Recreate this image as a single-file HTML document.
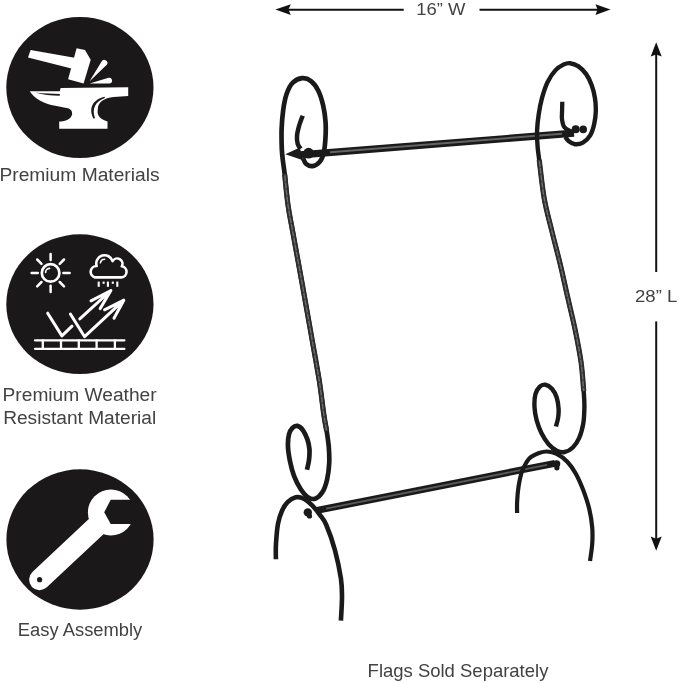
<!DOCTYPE html>
<html><head><meta charset="utf-8"><title>Flag Stand</title>
<style>html,body{margin:0;padding:0;background:#fff}body{width:679px;height:683px;position:relative;overflow:hidden;font-family:"Liberation Sans",sans-serif}</style></head>
<body>
<svg width="679" height="683" viewBox="0 0 679 683" style="display:block;position:absolute;left:0;top:0">
<rect width="679" height="683" fill="#ffffff"/>
<ellipse cx="79.9" cy="87.5" rx="73.6" ry="70.5" fill="#1b1819"/>
<ellipse cx="79.9" cy="304.2" rx="73.6" ry="69.9" fill="#1b1819"/>
<ellipse cx="80" cy="539.5" rx="73.6" ry="70.2" fill="#1b1819"/>
<g fill="#fff">
<polygon points="30.6,50 28,57.6 71.5,68.6 76,58"/>
<polygon points="76.6,48.3 85,50 90.7,59.7 83.6,83.6 68.1,79.2"/>
<path d="M89.4 81.6 L101.6 61.6 A3 3 0 0 1 107 64.6 Z"/>
<path d="M89.6 83.4 L108.6 77.8 A2.8 2.8 0 0 1 109.8 83.4 Z"/>
<path d="M60.6 88 L128.2 87.2 L128.2 96 L113.7 96.9 C104 98 97.8 102 97.8 109 C97 114 98 118.5 107.5 121.6 L107.5 128.7 L59.2 128.7 L59.2 121.6 C66 121.3 70.5 119.5 72.1 114.5 C72.5 110.5 70 108.8 67.7 108.3 L55.3 105.7 C44 104 34 98 29.7 91.2 L59.8 91.2 Z"/>
</g>
<path d="M35.5 92.6 C44 93.6 52 94 59.8 94 L59.8 95.8 C51 95.8 43 94.8 35.5 92.6 Z" fill="#1b1819"/>
<path d="M104.8 96.8 C93 99.5 88 108 93.6 118.8 L95 118 C91.5 108.5 95.5 101.5 104.8 98 Z" fill="#1b1819"/>
<g fill="none" stroke="#fff" stroke-linecap="round" stroke-linejoin="round">
<circle cx="50.6" cy="272.9" r="8.8" stroke-width="2.7"/>
<path d="M45.6 272.4 A4 4 0 0 1 49.6 268.4" stroke-width="1.6"/>
<line x1="63.4" y1="272.9" x2="69.6" y2="272.9" stroke-width="2.5"/>
<line x1="59.7" y1="282.0" x2="64.0" y2="286.3" stroke-width="2.5"/>
<line x1="50.6" y1="285.7" x2="50.6" y2="291.9" stroke-width="2.5"/>
<line x1="41.5" y1="282.0" x2="37.2" y2="286.3" stroke-width="2.5"/>
<line x1="37.8" y1="272.9" x2="31.6" y2="272.9" stroke-width="2.5"/>
<line x1="41.5" y1="263.8" x2="37.2" y2="259.5" stroke-width="2.5"/>
<line x1="50.6" y1="260.1" x2="50.6" y2="253.9" stroke-width="2.5"/>
<line x1="59.7" y1="263.8" x2="64.0" y2="259.5" stroke-width="2.5"/>
<path d="M95 277.4 L121.5 277.4 A5.6 5.6 0 0 0 121.8 266.3 A5.2 5.2 0 0 0 112.6 261.2 A8.3 8.3 0 0 0 96.6 266.0 A5.8 5.8 0 0 0 95 277.4 Z" stroke-width="2.6"/>
<path d="M100.4 262.8 A4.4 4.4 0 0 1 104.6 259.2" stroke-width="1.6"/>
<line x1="98.7" y1="281.6" x2="98.7" y2="286.8" stroke-width="2.1" stroke-linecap="butt"/>
<line x1="103.6" y1="281.6" x2="103.6" y2="283.8" stroke-width="2.1" stroke-linecap="butt"/>
<line x1="107.9" y1="281.6" x2="107.9" y2="286.8" stroke-width="2.1" stroke-linecap="butt"/>
<line x1="112.8" y1="281.6" x2="112.8" y2="283.8" stroke-width="2.1" stroke-linecap="butt"/>
<line x1="117.3" y1="281.6" x2="117.3" y2="286.8" stroke-width="2.1" stroke-linecap="butt"/>
<g stroke-width="3">
<path d="M47.7 313.2 L61.9 335.9 L72 326.2"/>
<path d="M79.8 318.9 L110.9 290.5 M91 300.8 L110.9 290.5 L100.2 308.6"/>
<path d="M70.4 314 L84.6 336.7 L123.8 300.2 M104.6 309.8 L123.8 300.2 L114 318.3"/>
</g>
<g stroke-width="2.3" stroke-linecap="round">
<path d="M35 340.3 L124.4 340.3 M35 348.8 L124.4 348.8"/>
<line x1="42.8" y1="340.3" x2="42.8" y2="348.8"/>
<line x1="61" y1="340.3" x2="61" y2="348.8"/>
<line x1="78.8" y1="340.3" x2="78.8" y2="348.8"/>
<line x1="96.6" y1="340.3" x2="96.6" y2="348.8"/>
<line x1="114.9" y1="340.3" x2="114.9" y2="348.8"/>
</g>
</g>
<g fill="#fff">
<line x1="39.6" y1="579.7" x2="100" y2="523" stroke="#fff" stroke-width="21" stroke-linecap="round"/>
<circle cx="110.9" cy="512.4" r="23"/>
</g>
<polygon points="140,499.8 110.7,499.8 104.2,512.3 110.7,524 140,524" fill="#1b1819"/>
<circle cx="39.6" cy="579.7" r="2.6" fill="#1b1819"/>
<g fill="none" stroke="#1a1a1a" stroke-linecap="round" stroke-linejoin="round">
<line x1="300" y1="154.9" x2="574" y2="133.1" stroke-width="7.1" stroke-linecap="butt"/>
<line x1="330" y1="152.2" x2="562" y2="133.75" stroke-width="2" stroke="#666361" stroke-linecap="butt"/>
<line x1="317" y1="510.4" x2="555" y2="463.3" stroke-width="6.9" stroke-linecap="butt"/>
<line x1="326" y1="508.6" x2="547" y2="464.9" stroke-width="1.9" stroke="#5c5957" stroke-linecap="butt"/>
<path d="M303.0 158.3 C303.5 159.2 304.6 162.7 306.2 164.0 C307.8 165.3 310.3 166.5 312.6 166.1 C314.9 165.7 318.0 164.0 319.9 161.6 C321.8 159.2 323.0 155.9 323.9 151.9 C324.8 147.9 325.2 142.5 325.5 137.4 C325.8 132.3 325.9 126.7 325.5 121.3 C325.1 115.9 324.3 110.3 323.1 105.2 C321.9 100.1 320.3 94.7 318.3 90.7 C316.3 86.7 313.7 83.2 311.0 81.1 C308.3 79.0 305.2 77.9 302.2 78.2 C299.2 78.5 295.4 80.1 292.8 82.7 C290.2 85.3 288.2 89.4 286.6 94.0 C285.0 98.6 284.0 104.2 283.2 110.1 C282.4 116.0 281.8 123.0 281.6 129.4 C281.4 135.8 281.6 143.3 281.8 148.7 C282.0 154.1 282.5 157.3 283.0 161.6 C283.5 165.9 283.9 167.2 284.7 174.4 C285.5 181.6 286.7 195.7 288.0 205.0 C289.3 214.3 290.1 217.5 292.4 230.0 C294.6 242.5 298.5 263.3 301.5 280.0 C304.5 296.7 307.4 313.4 310.4 330.1 C313.3 346.8 316.9 366.1 319.2 380.2 C321.4 394.3 322.6 406.5 323.9 415.0 C325.1 423.5 325.9 425.7 326.7 431.1 C327.5 436.5 328.4 441.8 328.8 447.2 C329.2 452.6 329.5 457.9 329.2 463.3 C328.9 468.7 328.2 474.6 327.1 479.4 C326.0 484.2 324.3 489.1 322.3 492.3 C320.3 495.5 317.5 497.9 315.1 498.7 C312.7 499.5 310.2 498.7 307.8 497.1 C305.4 495.5 302.9 492.5 300.6 489.0 C298.3 485.5 295.9 480.8 294.1 476.2 C292.4 471.6 291.1 466.5 290.1 461.7 C289.1 456.9 288.2 451.8 288.0 447.2 C287.8 442.6 288.2 437.5 289.0 434.3 C289.8 431.1 291.1 429.3 292.5 427.9 C293.9 426.5 295.6 425.5 297.4 425.9 C299.1 426.3 301.4 428.1 303.0 430.3 C304.6 432.5 306.2 436.0 307.3 439.1 C308.4 442.2 309.1 445.3 309.4 448.8 C309.7 452.3 309.4 456.6 309.0 460.1 C308.6 463.6 307.3 468.1 307.0 469.7" stroke-width="4.7" stroke-linecap="butt"/>
<path d="M302.7 115.7 C302.1 117.5 299.9 122.8 299.0 126.2 C298.1 129.6 297.2 132.9 297.0 135.8 C296.8 138.8 297.1 141.8 297.7 143.9 C298.3 146.1 300.1 147.9 300.6 148.7" stroke-width="4.5" stroke-linecap="butt"/>
<path d="M275.9 559.2 C275.9 556.6 275.6 549.2 276.0 543.3 C276.4 537.4 277.0 529.1 278.0 523.8 C279.0 518.4 280.2 514.8 281.8 511.2 C283.4 507.6 285.3 504.5 287.6 502.2 C289.9 499.9 293.0 497.9 295.7 497.3 C298.4 496.7 301.1 497.4 303.8 498.7 C306.5 500.0 309.2 502.4 311.9 505.1 C314.6 507.8 317.5 511.5 319.9 514.8 C322.3 518.1 323.8 519.1 326.3 525.0 C328.8 530.9 332.6 541.4 335.0 550.3 C337.4 559.2 339.7 570.6 340.9 578.4 C342.1 586.2 342.0 590.2 342.0 597.2 C342.0 604.2 341.1 616.7 340.9 620.6" stroke-width="4.6" stroke-linecap="butt"/>
<path d="M565.2 136.9 C565.8 137.6 566.9 139.7 568.5 140.9 C570.1 142.1 572.5 143.9 574.9 144.2 C577.3 144.5 580.3 144.1 582.9 142.6 C585.5 141.1 588.3 138.4 590.2 135.3 C592.1 132.2 593.3 128.0 594.2 124.0 C595.1 120.0 595.7 115.5 595.8 111.2 C595.9 106.9 595.7 102.6 595.0 98.3 C594.3 94.0 593.3 89.4 591.8 85.4 C590.3 81.4 588.5 77.3 586.2 74.1 C583.9 70.9 580.8 67.9 578.1 66.1 C575.4 64.3 572.5 63.5 570.1 63.2 C567.7 62.9 566.0 63.4 563.6 64.5 C561.2 65.7 558.3 67.1 555.6 70.1 C552.9 73.0 549.8 77.5 547.5 82.2 C545.2 86.9 543.4 92.9 541.9 98.3 C540.4 103.7 539.5 109.0 538.7 114.4 C537.9 119.8 537.3 125.1 537.1 130.5 C536.9 135.9 537.2 141.7 537.6 146.6 C538.0 151.5 538.1 151.2 539.2 159.9 C540.3 168.6 542.2 187.3 544.3 199.0 C546.4 210.7 548.9 218.9 551.6 230.0 C554.3 241.1 557.8 254.0 560.5 265.3 C563.2 276.6 565.3 286.9 567.8 297.7 C570.2 308.5 573.0 319.3 575.2 330.1 C577.4 340.9 579.7 352.3 581.1 362.5 C582.5 372.7 583.2 383.7 583.7 391.1 C584.2 398.6 584.5 401.8 584.4 407.2 C584.3 412.6 584.2 418.2 583.3 423.3 C582.4 428.4 581.0 433.8 579.2 437.8 C577.5 441.8 575.2 445.1 572.8 447.5 C570.4 449.9 567.4 451.5 564.7 452.0 C562.0 452.5 559.4 452.0 556.7 450.7 C554.0 449.4 551.2 447.1 548.6 444.2 C546.0 441.2 543.4 437.0 541.4 433.0 C539.4 429.0 537.8 424.4 536.6 420.1 C535.5 415.8 534.7 411.5 534.5 407.2 C534.3 402.9 534.5 397.7 535.4 394.3 C536.3 390.9 538.1 388.2 539.8 386.6 C541.5 385.0 543.4 384.4 545.4 384.7 C547.4 385.0 550.0 386.6 551.9 388.7 C553.8 390.8 555.6 394.1 556.7 397.5 C557.8 400.9 558.4 405.3 558.6 408.8 C558.8 412.3 558.5 415.6 558.0 418.5 C557.5 421.4 556.2 425.2 555.9 426.5" stroke-width="4.4" stroke-linecap="butt"/>
<path d="M562.3 101.8 C562.3 103.2 562.1 107.1 562.1 110.0 C562.1 112.9 561.6 116.3 562.0 119.2 C562.4 122.1 562.9 125.3 564.4 127.3 C565.9 129.3 569.8 130.6 570.9 131.3" stroke-width="4.3" stroke-linecap="butt"/>
<path d="M517.1 513.0 C517.1 511.2 516.9 506.5 517.1 502.1 C517.3 497.8 517.7 491.9 518.5 486.9 C519.3 481.8 520.4 476.0 521.8 471.8 C523.2 467.6 525.4 464.2 526.9 461.7 C528.4 459.2 528.9 458.4 530.9 457.0 C532.9 455.6 536.3 453.9 539.0 453.0 C541.7 452.1 544.0 451.4 547.0 451.5 C550.0 451.6 553.3 452.2 556.7 453.9 C560.1 455.6 564.1 458.4 567.3 461.7 C570.5 465.0 573.0 468.7 575.7 473.5 C578.4 478.3 581.0 484.4 583.3 490.3 C585.5 496.2 587.7 502.6 589.2 508.8 C590.7 515.0 591.7 521.4 592.2 527.3 C592.7 533.2 592.6 538.6 592.2 544.2 C591.8 549.8 590.4 558.2 590.0 561.0" stroke-width="4.2" stroke-linecap="butt"/>
<path d="M284.7 174.4 C285.2 179.5 286.7 195.7 288.0 205.0 C289.3 214.3 290.1 217.5 292.4 230.0 C294.6 242.5 298.5 263.3 301.5 280.0 C304.5 296.7 307.4 313.4 310.4 330.1 C313.3 346.8 316.9 366.1 319.2 380.2 C321.4 394.3 322.6 406.5 323.9 415.0 C325.1 423.5 326.2 428.4 326.7 431.1" stroke-width="5.2" stroke="#2c2c2c" stroke-linecap="butt"/>
<path d="M284.7 174.4 C285.2 179.5 286.7 195.7 288.0 205.0 C289.3 214.3 290.1 217.5 292.4 230.0 C294.6 242.5 298.5 263.3 301.5 280.0 C304.5 296.7 307.4 313.4 310.4 330.1 C313.3 346.8 316.9 366.1 319.2 380.2 C321.4 394.3 322.6 406.5 323.9 415.0 C325.1 423.5 326.2 428.4 326.7 431.1" stroke-width="1.5" stroke="#6c6c6c" stroke-linecap="butt"/>
<path d="M284.7 174.4 C285.2 179.5 286.7 195.7 288.0 205.0 C289.3 214.3 290.1 217.5 292.4 230.0 C294.6 242.5 298.5 263.3 301.5 280.0 C304.5 296.7 307.4 313.4 310.4 330.1 C313.3 346.8 316.9 366.1 319.2 380.2 C321.4 394.3 322.6 406.5 323.9 415.0 C325.1 423.5 326.2 428.4 326.7 431.1" stroke-width="1.7" stroke="#3a3a3a" stroke-dasharray="1.4 5.6" stroke-linecap="butt"/>
<path d="M539.2 159.9 C540.1 166.4 542.2 187.3 544.3 199.0 C546.4 210.7 548.9 218.9 551.6 230.0 C554.3 241.1 557.8 254.0 560.5 265.3 C563.2 276.6 565.3 286.9 567.8 297.7 C570.2 308.5 573.0 319.3 575.2 330.1 C577.4 340.9 579.7 352.3 581.1 362.5 C582.5 372.7 583.3 386.3 583.7 391.1" stroke-width="5.2" stroke="#2c2c2c" stroke-linecap="butt"/>
<path d="M539.2 159.9 C540.1 166.4 542.2 187.3 544.3 199.0 C546.4 210.7 548.9 218.9 551.6 230.0 C554.3 241.1 557.8 254.0 560.5 265.3 C563.2 276.6 565.3 286.9 567.8 297.7 C570.2 308.5 573.0 319.3 575.2 330.1 C577.4 340.9 579.7 352.3 581.1 362.5 C582.5 372.7 583.3 386.3 583.7 391.1" stroke-width="1.5" stroke="#6c6c6c" stroke-linecap="butt"/>
<path d="M539.2 159.9 C540.1 166.4 542.2 187.3 544.3 199.0 C546.4 210.7 548.9 218.9 551.6 230.0 C554.3 241.1 557.8 254.0 560.5 265.3 C563.2 276.6 565.3 286.9 567.8 297.7 C570.2 308.5 573.0 319.3 575.2 330.1 C577.4 340.9 579.7 352.3 581.1 362.5 C582.5 372.7 583.3 386.3 583.7 391.1" stroke-width="1.7" stroke="#3a3a3a" stroke-dasharray="1.4 5.6" stroke-linecap="butt"/>
</g>
<polygon points="285.3,154.3 299.8,147.6 303,160.2" fill="#1a1a1a"/>
<circle cx="308.6" cy="153.2" r="5.4" fill="#1a1a1a"/>
<circle cx="575.7" cy="129.2" r="4" fill="#1a1a1a"/>
<circle cx="583.2" cy="129.4" r="3.8" fill="#1a1a1a"/>
<circle cx="307.8" cy="512.4" r="4.2" fill="#1a1a1a"/>
<circle cx="309.5" cy="516" r="2.6" fill="#1a1a1a"/>
<circle cx="556.7" cy="463.8" r="3.6" fill="#1a1a1a"/>
<circle cx="556.9" cy="467.8" r="2.6" fill="#1a1a1a"/>
<g stroke="#111" stroke-width="2" fill="#111">
<line x1="287" y1="9.7" x2="403.7" y2="9.7"/>
<line x1="479.5" y1="9.7" x2="600" y2="9.7"/>
<polygon points="275.4,9.6 290.8,4.3 288.4,9.6 290.8,14.9" stroke="none"/>
<polygon points="610.5,9.6 595.4,4.3 597.6,9.6 595.4,14.9" stroke="none"/>
<line x1="656.2" y1="54" x2="656.2" y2="272"/>
<line x1="656.2" y1="321.4" x2="656.2" y2="540"/>
<polygon points="656.2,42.2 650.7,56.6 656.2,54.4 661.7,56.6" stroke="none"/>
<polygon points="656.2,550.7 650.7,536.6 656.2,538.8 661.7,536.6" stroke="none"/>
</g>
<g font-family="'Liberation Sans', sans-serif" style="filter:grayscale(1)">
<text x="-0.6" y="181.2" font-size="18" textLength="160.2" lengthAdjust="spacingAndGlyphs" fill="#424242">Premium Materials</text>
<text x="2.6" y="400.8" font-size="18" textLength="154" lengthAdjust="spacingAndGlyphs" fill="#424242">Premium Weather</text>
<text x="3.2" y="424.3" font-size="18" textLength="153" lengthAdjust="spacingAndGlyphs" fill="#424242">Resistant Material</text>
<text x="17.8" y="635.8" font-size="18" textLength="124.5" lengthAdjust="spacingAndGlyphs" fill="#424242">Easy Assembly</text>
<text x="367.6" y="676.6" font-size="18.6" textLength="180.8" lengthAdjust="spacingAndGlyphs" fill="#424242">Flags Sold Separately</text>
<text x="416.2" y="14.8" font-size="17.2" textLength="49.2" lengthAdjust="spacingAndGlyphs" fill="#424242">16” W</text>
<text x="635" y="301.6" font-size="17.4" textLength="42.3" lengthAdjust="spacingAndGlyphs" fill="#424242">28” L</text>
</g>
</svg>
</body></html>
